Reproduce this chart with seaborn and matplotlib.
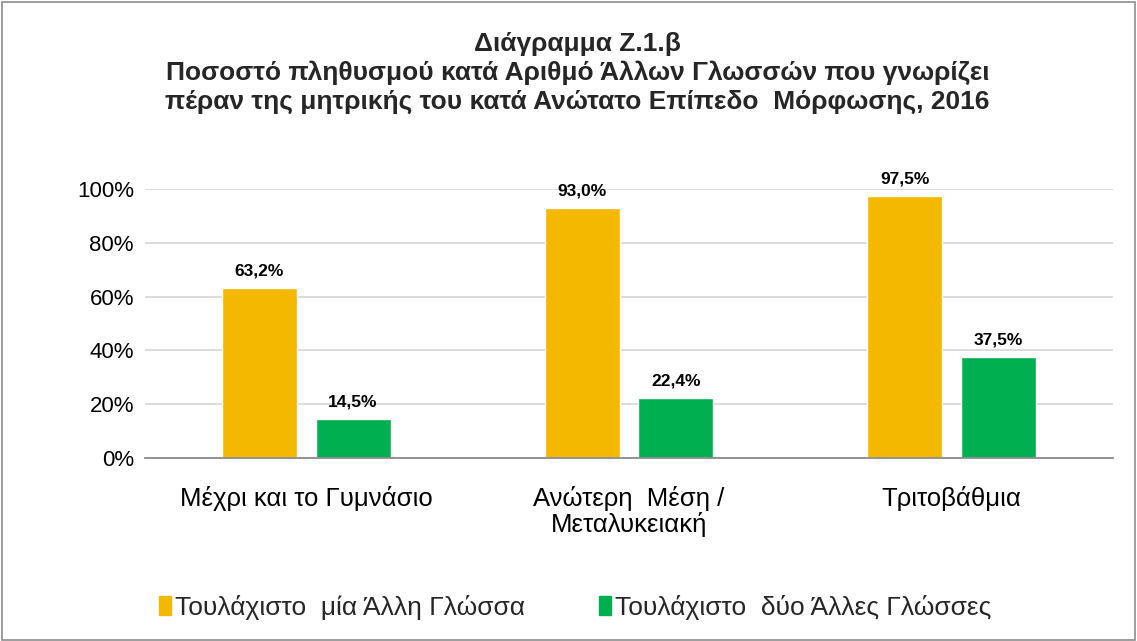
import matplotlib
matplotlib.use("Agg")
import matplotlib.pyplot as plt
import seaborn as sns
import pandas as pd
from matplotlib.patches import Rectangle, Patch

categories = ["Μέχρι και το Γυμνάσιο", "Ανώτερη  Μέση /\nΜεταλυκειακή", "Τριτοβάθμια"]
series_names = ["Τουλάχιστο  μία Άλλη Γλώσσα", "Τουλάχιστο  δύο Άλλες Γλώσσες"]
one_lang = [63.2, 93.0, 97.5]
two_lang = [14.5, 22.4, 37.5]
yticks = [0, 20, 40, 60, 80, 100]
title = ("Διάγραμμα Ζ.1.β\n"
         "Ποσοστό πληθυσμού κατά Αριθμό Άλλων Γλωσσών που γνωρίζει\n"
         "πέραν της μητρικής του κατά Ανώτατο Επίπεδο  Μόρφωσης, 2016")

colors = ["#F5B800", "#00B050"]

df = pd.DataFrame({
    "cat": categories * 2,
    "series": [series_names[0]] * 3 + [series_names[1]] * 3,
    "value": one_lang + two_lang,
})

sns.set_theme(style="white")
plt.rcParams['font.family'] = ['Liberation Sans', 'DejaVu Sans']

fig = plt.figure(figsize=(11.37, 6.41), dpi=100)
ax = fig.add_axes([145/1137, 1 - 458/641, (1113-145)/1137, (458-189)/641])

sns.barplot(data=df, x="cat", y="value", hue="series", palette=colors,
            width=0.58, gap=0.2, ax=ax, legend=False, saturation=1)

ax.set_xlim(-0.5, 2.5)
ax.set_ylim(0, 100)
ax.set_yticks(yticks)
ax.set_yticklabels([f"{v}%" for v in yticks], fontsize=16, color="#000000")
ax.tick_params(axis='x', labelsize=18.5, colors="#000000", pad=20, length=0)
ax.tick_params(axis='y', length=0, pad=8)
for lbl in ax.get_xticklabels():
    lbl.set_linespacing(1.05)
ax.set_xlabel("")
ax.set_ylabel("")
ax.yaxis.grid(True, color="#D9D9D9", linewidth=1.3)
ax.set_axisbelow(True)
for s in ["left", "right", "top"]:
    ax.spines[s].set_visible(False)
ax.spines["bottom"].set_color("#8C8C8C")
ax.spines["bottom"].set_linewidth(1.3)

for cont in ax.containers:
    labels = [f"{v:.1f}%".replace(".", ",") for v in cont.datavalues]
    ax.bar_label(cont, labels=labels, padding=7, fontsize=12.5, fontweight="bold",
                 color="#000000", clip_on=False)

fig.text(0.508, 1 - 73/641, title, ha="center", va="center", fontsize=19,
         fontweight="bold", linespacing=1.27)

handles = [Patch(facecolor=c, edgecolor=c) for c in colors]
fig.legend(handles, series_names, loc="center", bbox_to_anchor=(0.506, 1 - 607/641),
           ncol=2, frameon=False, fontsize=19, handlelength=0.45, handleheight=0.75,
           handletextpad=0.15, columnspacing=2.8)

fig.patches.append(Rectangle((0.002, 0.002), 0.996, 0.995, transform=fig.transFigure,
                             fill=False, edgecolor="#8C8C8C", linewidth=1.2))

fig.savefig("out.png", dpi=100, facecolor="white")
